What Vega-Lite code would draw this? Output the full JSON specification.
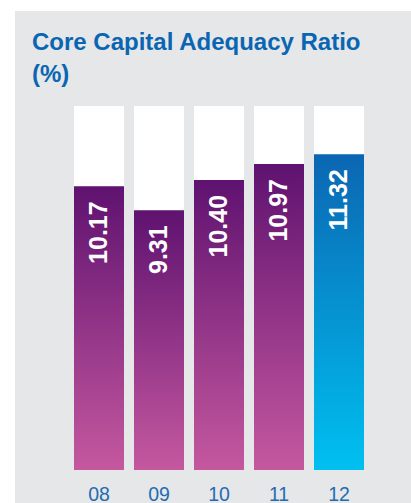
{
  "$schema": "https://vega.github.io/schema/vega-lite/v6.json",
  "width": 396,
  "height": 492,
  "autosize": {"type": "none"},
  "padding": {"left": 15, "top": 11, "right": 0, "bottom": 0},
  "background": "#ffffff",
  "config": {"view": {"fill": "#e6e7e8", "stroke": null}},
  "title": {
    "text": ["Core Capital Adequacy Ratio", "(%)"],
    "anchor": "start",
    "frame": "group",
    "dx": 17,
    "offset": -95,
    "font": "Liberation Sans",
    "fontSize": 24,
    "fontWeight": "bold",
    "color": "#0a66b2",
    "lineHeight": 32,
    "baseline": "alphabetic"
  },
  "data": {
    "values": [
      {"year": "08", "ratio": 10.17},
      {"year": "09", "ratio": 9.31},
      {"year": "10", "ratio": 10.40},
      {"year": "11", "ratio": 10.97},
      {"year": "12", "ratio": 11.32}
    ]
  },
  "encoding": {
    "x": {
      "field": "year",
      "type": "nominal",
      "sort": null,
      "scale": {"paddingInner": 0.1667, "paddingOuter": 0.8833, "align": 0.5566},
      "axis": {
        "title": null,
        "ticks": false,
        "domain": false,
        "grid": false,
        "labelPadding": 0,
        "offset": -3,
        "labelBaseline": "alphabetic",
        "labelAngle": 0,
        "labelFont": "Liberation Sans",
        "labelFontSize": 19.5,
        "labelColor": "#1f6cb2"
      }
    }
  },
  "layer": [
    {
      "mark": {"type": "bar", "fill": "#ffffff"},
      "encoding": {
        "y": {"datum": 13.05, "type": "quantitative", "scale": {"domain": [-1.183, 16.456], "zero": false, "nice": false}, "axis": null},
        "y2": {"datum": 0}
      }
    },
    {
      "transform": [{"filter": "datum.year != '12'"}],
      "mark": {
        "type": "bar",
        "fill": {
          "gradient": "linear",
          "x1": 0, "y1": 0, "x2": 0, "y2": 1,
          "stops": [
            {"offset": 0, "color": "#5f1270"},
            {"offset": 1, "color": "#c5589f"}
          ]
        }
      },
      "encoding": {
        "y": {"field": "ratio", "type": "quantitative", "axis": null},
        "y2": {"datum": 0}
      }
    },
    {
      "transform": [{"filter": "datum.year == '12'"}],
      "mark": {
        "type": "bar",
        "fill": {
          "gradient": "linear",
          "x1": 0, "y1": 0, "x2": 0, "y2": 1,
          "stops": [
            {"offset": 0, "color": "#0b66b2"},
            {"offset": 1, "color": "#00c0f1"}
          ]
        }
      },
      "encoding": {
        "y": {"field": "ratio", "type": "quantitative", "axis": null},
        "y2": {"datum": 0}
      }
    },
    {
      "mark": {
        "type": "text",
        "angle": 270,
        "align": "right",
        "baseline": "middle",
        "dx": -15,
        "font": "Liberation Sans",
        "fontWeight": "bold",
        "fontSize": 25,
        "fill": "#ffffff"
      },
      "encoding": {
        "y": {"field": "ratio", "type": "quantitative", "axis": null},
        "text": {"field": "ratio", "type": "quantitative", "format": ".2f"}
      }
    }
  ]
}
